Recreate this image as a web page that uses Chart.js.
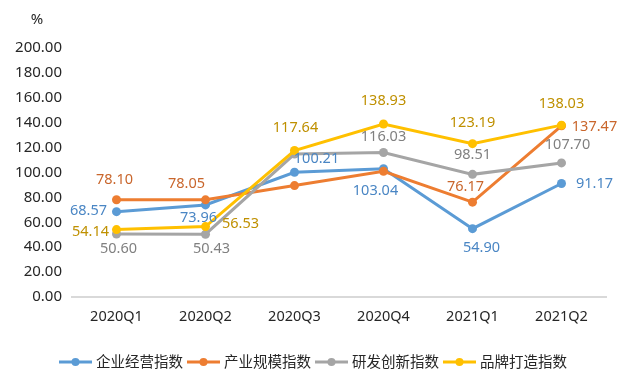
<!DOCTYPE html>
<html>
<head>
<meta charset="utf-8">
<script src="https://cdn.jsdelivr.net/npm/chart.js@4/dist/chart.umd.min.js"></script>
<style>
html,body{margin:0;padding:0;background:#fff;}
#wrap{width:634px;height:383px;position:relative;}
</style>
</head>
<body>
<div id="wrap"><canvas id="c" width="634" height="383"></canvas></div>
<script>
// ---- data ----
const categories = ['2020Q1', '2020Q2', '2020Q3', '2020Q4', '2021Q1', '2021Q2'];
const seriesNames = ['企业经营指数', '产业规模指数', '研发创新指数', '品牌打造指数'];
const enterpriseIndex = [68.57, 73.96, 100.21, 103.04, 54.90, 91.17];
const industryIndex   = [78.10, 78.05, 89.5, 101.0, 76.17, 137.47];
const rdIndex         = [50.60, 50.43, 114.8, 116.03, 98.51, 107.70];
const brandIndex      = [54.14, 56.53, 117.64, 138.93, 123.19, 138.03];
const yMin = 0, yMax = 200, yStep = 20;

// ---- styles ----
const lineColors  = ['#5B9BD5', '#ED7D31', '#A5A5A5', '#FFC000'];
const labelColors = ['#4A86C4', '#C9662C', '#808080', '#BF9000'];
// label offsets (dx, dy) from point centre to text centre; null = no label
const labelOffsets = [
  [[-28,-1],[-7,13],[22,-13],[-8,22],[9,19],[33,0]],
  [[-2,-20],[-19,-16],null,null,[-7,-15],[33,1]],
  [[2,15],[6,15],null,[0,-16],[0,-19],[6,-18]],
  [[-26,2],[35,-3],[1,-23],[0,-23],[0,-21],[0,-21]]
];
const FONT = "'Noto Sans','Noto Sans CJK SC',sans-serif";

const seriesData = [enterpriseIndex, industryIndex, rdIndex, brandIndex];

const labelPlugin = {
  id: 'valueLabels',
  afterDatasetsDraw(chart) {
    const ctx = chart.ctx;
    ctx.save();
    ctx.font = '14.5px ' + FONT;
    ctx.textAlign = 'center';
    ctx.textBaseline = 'middle';
    chart.data.datasets.forEach((ds, i) => {
      const meta = chart.getDatasetMeta(i);
      meta.data.forEach((pt, j) => {
        const off = labelOffsets[i][j];
        if (!off) return;
        ctx.fillStyle = labelColors[i];
        ctx.fillText(ds.data[j].toFixed(2), pt.x + off[0], pt.y + off[1]);
      });
    });
    // unit
    ctx.fillStyle = '#262626';
    ctx.font = '15px ' + FONT;
    ctx.fillText('%', 37, 20);
    // legend
    ctx.font = '14.5px ' + FONT;
    ctx.textAlign = 'left';
    const lineW = 33, gap = 4;
    const widths = seriesNames.map(n => lineW + gap + ctx.measureText(n).width + gap);
    const total = widths.reduce((a,b)=>a+b,0);
    let x = 315 - total/2;
    const y = 362;
    seriesNames.forEach((n, i) => {
      ctx.strokeStyle = lineColors[i];
      ctx.lineWidth = 3;
      ctx.beginPath(); ctx.moveTo(x, y); ctx.lineTo(x + lineW, y); ctx.stroke();
      ctx.fillStyle = lineColors[i];
      ctx.beginPath(); ctx.arc(x + lineW/2, y, 4, 0, Math.PI*2); ctx.fill();
      ctx.fillStyle = '#262626';
      ctx.fillText(n, x + lineW + gap, y + 1);
      x += widths[i];
    });
    ctx.restore();
  }
};

new Chart(document.getElementById('c'), {
  type: 'line',
  data: {
    labels: categories,
    datasets: seriesNames.map((name, i) => ({
      label: name,
      data: seriesData[i],
      borderColor: lineColors[i],
      backgroundColor: lineColors[i],
      borderWidth: 3,
      pointRadius: 4.5,
      pointBorderWidth: 0,
      pointBackgroundColor: lineColors[i],
      tension: 0,
      order: 4 - i
    }))
  },
  options: {
    responsive: false,
    animation: false,
    layout: { padding: { top: 48, right: 28, left: 0, bottom: 0 } },
    plugins: { legend: { display: false }, tooltip: { enabled: false } },
    scales: {
      x: {
        offset: true,
        grid: { display: false },
        border: { display: true, color: '#D9D9D9', width: 2 },
        ticks: { color: '#262626', font: { size: 14.5, family: FONT }, padding: 3 },
        afterFit(s) { s.height = 86; }
      },
      y: {
        min: yMin, max: yMax,
        grid: { display: false },
        border: { display: false },
        ticks: {
          stepSize: yStep,
          color: '#262626',
          font: { size: 15, family: FONT },
          padding: 2,
          callback: v => Number(v).toFixed(2)
        },
        afterFit(s) { s.width = 72; }
      }
    }
  },
  plugins: [labelPlugin]
});
</script>
</body>
</html>
